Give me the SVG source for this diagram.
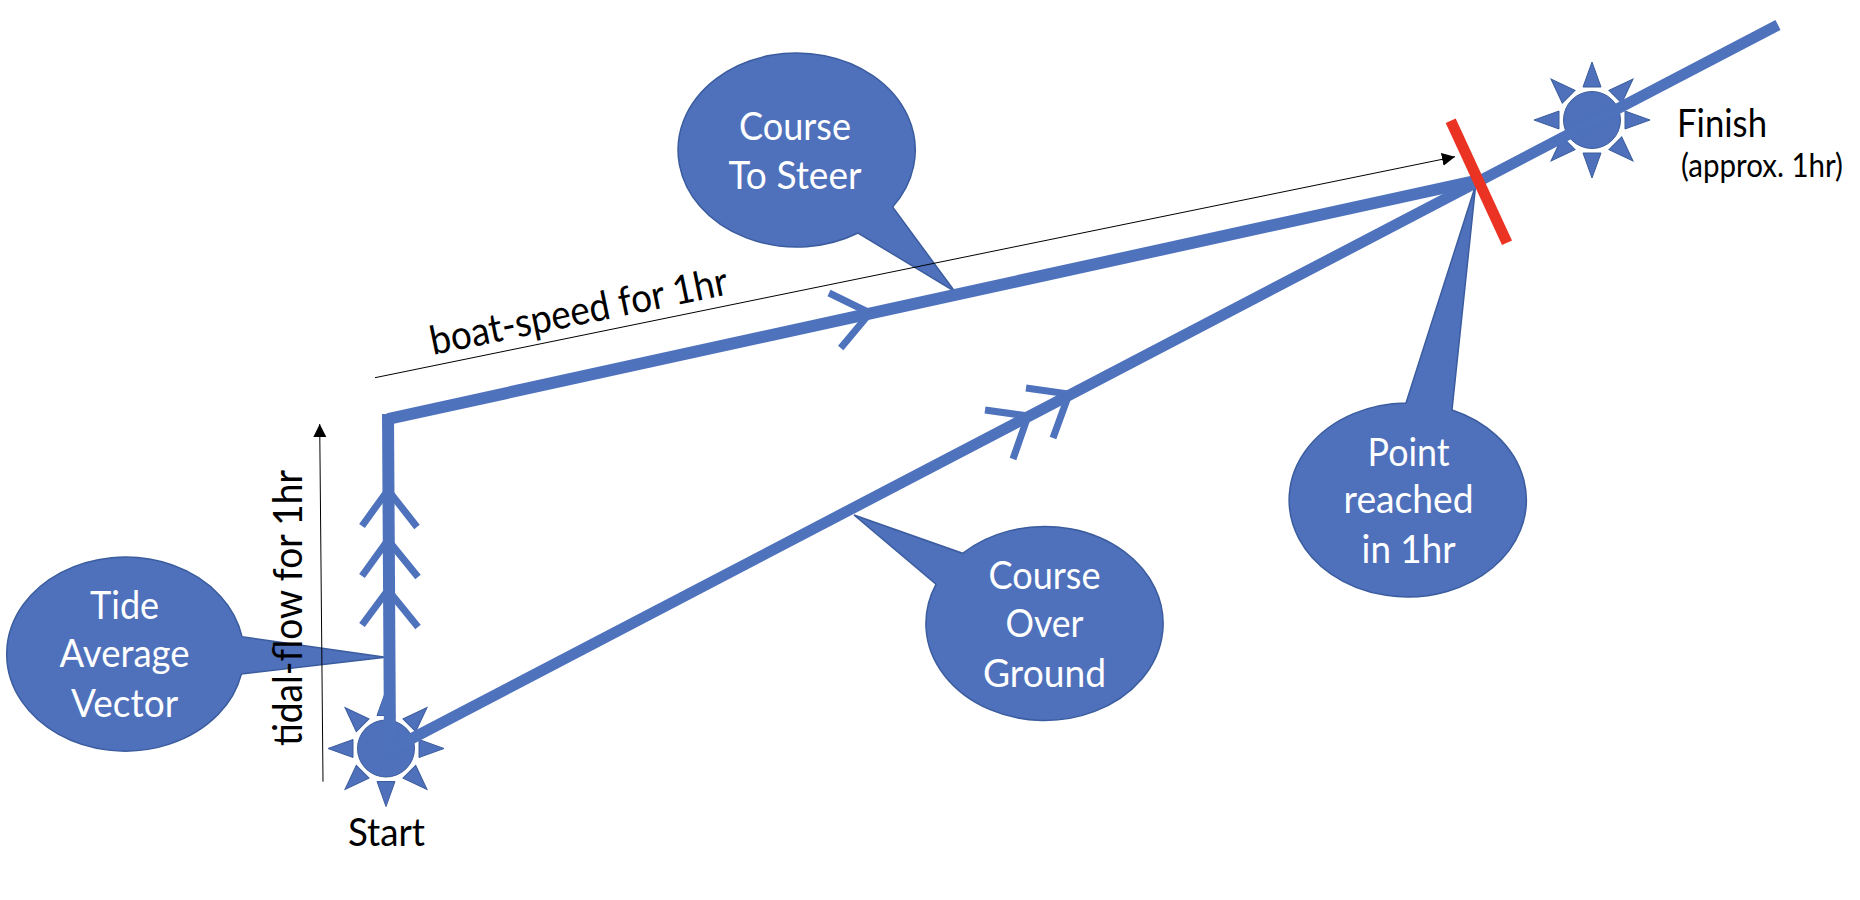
<svg xmlns="http://www.w3.org/2000/svg" xmlns:xlink="http://www.w3.org/1999/xlink" width="1860" height="900" viewBox="0 0 1860 900">
<style>
.bubble{fill:#4F71BC;stroke:#3B5C9E;stroke-width:1.5}
.ray{fill:#4F71BC;stroke:#3B5C9E;stroke-width:1}
.lbl{font-family:Lato,"Liberation Sans",sans-serif;font-size:38px;fill:#fff;text-anchor:middle}
.blk{font-family:Lato,"Liberation Sans",sans-serif;fill:#000}
.course{fill:none;stroke:#4F72BD;stroke-width:12}
.cog{fill:none;stroke:#4F72BD;stroke-width:11}
.chev{fill:none;stroke:#4F72BD;stroke-width:7}
.thin{fill:none;stroke:#000;stroke-width:1;marker-end:url(#head)}
</style>
<defs>
<marker id="head" markerUnits="userSpaceOnUse" markerWidth="14" markerHeight="14" refX="13" refY="7" orient="auto"><path d="M0,0.5L13,7L0,13.5Z" fill="#000"/></marker>
<g id="sun">
<g class="ray">
<polygon points="-9,-33 9,-33 0,-58"/>
<polygon points="-9,-33 9,-33 0,-58" transform="rotate(45)"/>
<polygon points="-9,-33 9,-33 0,-58" transform="rotate(90)"/>
<polygon points="-9,-33 9,-33 0,-58" transform="rotate(135)"/>
<polygon points="-9,-33 9,-33 0,-58" transform="rotate(180)"/>
<polygon points="-9,-33 9,-33 0,-58" transform="rotate(225)"/>
<polygon points="-9,-33 9,-33 0,-58" transform="rotate(270)"/>
<polygon points="-9,-33 9,-33 0,-58" transform="rotate(315)"/>
</g>
<circle r="28.5" class="ray"/>
</g>
</defs>
<rect width="1860" height="900" fill="#fff"/>
<g id="callout-course-to-steer">
<path class="bubble" d="M892.6,207A118.6,97 0 1 0 858,233L955,291.7Z"/>
<text class="lbl" x="795" y="139.5" textLength="112" lengthAdjust="spacingAndGlyphs">Course</text>
<text class="lbl" x="795" y="188.5" textLength="133" lengthAdjust="spacingAndGlyphs">To Steer</text>
</g>
<g id="callout-point-reached">
<path class="bubble" d="M1406,403A118.6,97 0 1 0 1452,410L1475.7,185Z"/>
<text class="lbl" x="1408.6" y="465.5" textLength="82" lengthAdjust="spacingAndGlyphs">Point</text>
<text class="lbl" x="1408.6" y="513" textLength="130" lengthAdjust="spacingAndGlyphs">reached</text>
<text class="lbl" x="1408.6" y="563" textLength="94" lengthAdjust="spacingAndGlyphs">in 1hr</text>
</g>
<g id="callout-course-over-ground">
<path class="bubble" d="M962.6,553.3A118.6,97 0 1 1 936,584.3L854,515Z"/>
<text class="lbl" x="1044.5" y="588.5" textLength="112" lengthAdjust="spacingAndGlyphs">Course</text>
<text class="lbl" x="1044.5" y="637" textLength="78" lengthAdjust="spacingAndGlyphs">Over</text>
<text class="lbl" x="1044.5" y="686.5" textLength="123" lengthAdjust="spacingAndGlyphs">Ground</text>
</g>
<g id="callout-tide-average">
<path class="bubble" d="M242,636.7A118.6,97 0 1 0 241.4,674L385.5,657.3Z"/>
<text class="lbl" x="124.6" y="618.5" textLength="69" lengthAdjust="spacingAndGlyphs">Tide</text>
<text class="lbl" x="124.6" y="667" textLength="130" lengthAdjust="spacingAndGlyphs">Average</text>
<text class="lbl" x="124.6" y="716.5" textLength="107" lengthAdjust="spacingAndGlyphs">Vector</text>
</g>
<g id="node-start">
<use href="#sun" xlink:href="#sun" x="386" y="748.5"/>
<text class="blk" font-size="38" x="386.5" y="846" text-anchor="middle" textLength="77" lengthAdjust="spacingAndGlyphs">Start</text>
</g>
<g id="node-finish">
<use href="#sun" xlink:href="#sun" x="1592" y="120"/>
<text class="blk" font-size="38" x="1677" y="137" textLength="90" lengthAdjust="spacingAndGlyphs">Finish</text>
<text class="blk" font-size="32" x="1681" y="176.7" textLength="162" lengthAdjust="spacingAndGlyphs">(approx. 1hr)</text>
</g>
<g id="connectors">
<path class="course" d="M1475,181L388,419"/>
<path class="course" d="M388,414L390,748"/>
<polygon points="385,693 377.7,715 385,715" fill="#4F72BD"/>
<path class="cog" d="M386,752L1778,25"/>
<path class="chev" d="M362,526L388,490L417,527M362,576L388,540L418,577M362,625L388,590L418,627"/>
<path class="chev" d="M829,293L870,313L840.7,348"/>
<path class="chev" d="M1026,388L1069,394L1053,438M985,410L1028,416L1013,459"/>
<path class="thin" d="M375,377.7L1455,156.7"/>
<path class="thin" d="M323,781.7L319.7,424"/>
</g>
<g id="mark-1hr">
<path d="M1450.7,120.7L1507,242.7" fill="none" stroke="#EB3323" stroke-width="11"/>
</g>
<g id="label-boat-speed">
<text class="blk" font-size="40" transform="translate(433,355) rotate(-11.6)" textLength="303" lengthAdjust="spacingAndGlyphs">boat-speed for 1hr</text>
</g>
<g id="label-tidal-flow">
<text class="blk" font-size="40" transform="translate(302,746) rotate(-90)" textLength="276" lengthAdjust="spacingAndGlyphs">tidal-flow for 1hr</text>
</g>
</svg>
